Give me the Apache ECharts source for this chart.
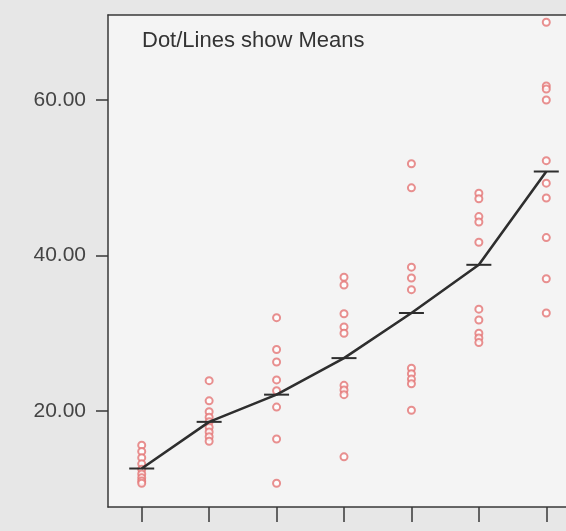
<!DOCTYPE html>
<html>
<head>
<meta charset="utf-8">
<script src="https://cdn.jsdelivr.net/npm/echarts@6/dist/echarts.min.js"></script>
<style>
  html, body { margin: 0; padding: 0; background: #e7e7e7; overflow: hidden; }
  #chart { width: 566px; height: 531px; }
</style>
</head>
<body>
<div id="chart"></div>
<script>
// Seven groups along the x axis; individual observations as open dots,
// group means joined by a line with a short dash at each mean.
const categories = ['1', '2', '3', '4', '5', '6', '7'];

const group1 = [15.6, 14.8, 14.0, 13.2, 12.5, 11.9, 11.4, 11.0, 10.7];
const group2 = [23.9, 21.3, 19.9, 19.2, 18.6, 17.9, 17.3, 16.7, 16.1];
const group3 = [32.0, 27.9, 26.3, 24.0, 22.6, 20.5, 16.4, 10.7];
const group4 = [37.2, 36.2, 32.5, 30.8, 30.0, 23.3, 22.7, 22.1, 14.1];
const group5 = [51.8, 48.7, 38.5, 37.1, 35.6, 25.5, 24.8, 24.1, 23.5, 20.1];
const group6 = [48.0, 47.3, 45.0, 44.3, 41.7, 33.1, 31.7, 30.0, 29.4, 28.8];
const group7 = [70.0, 61.8, 61.4, 60.0, 52.2, 49.3, 47.4, 42.3, 37.0, 32.6];

const groupMeans = [12.6, 18.6, 22.1, 26.8, 32.6, 38.8, 50.8];

const yTicks = [20, 40, 60];

const groups = [group1, group2, group3, group4, group5, group6, group7];
const dotData = [];
groups.forEach((vals, i) => vals.forEach(v => dotData.push([i, v])));

const chartEl = document.getElementById('chart');
const chart = echarts.init(chartEl, null, { renderer: 'canvas' });

const ink = '#383838';
const font = 'Liberation Sans, Arial, sans-serif';
const plot = { left: 108, top: 15, width: 472, height: 492 };
// the panel stops at the visible edge of the page
const panelWidth = Math.min(plot.width, chartEl.clientWidth - plot.left);

chart.setOption({
  animation: false,
  graphic: [
    {
      // lighter panel behind the plotting area
      type: 'rect',
      silent: true,
      z: -10,
      shape: { x: plot.left, y: plot.top, width: panelWidth, height: plot.height },
      style: { fill: '#f4f4f4', stroke: null, lineWidth: 0 }
    },
    {
      type: 'text',
      silent: true,
      x: 142,
      y: 30,
      style: {
        text: 'Dot/Lines show Means',
        font: 'normal 22px ' + font,
        fill: '#333'
      }
    }
  ],
  grid: {
    left: plot.left,
    top: plot.top,
    width: plot.width,
    height: plot.height,
    outerBoundsMode: 'none',
    show: false
  },
  xAxis: [
    {
      type: 'category',
      data: categories,
      boundaryGap: true,
      axisLine: { lineStyle: { color: ink, width: 1.5 } },
      axisTick: { show: true, alignWithLabel: true, length: 15, lineStyle: { color: ink, width: 1.5 } },
      axisLabel: { show: false },
      splitLine: { show: false }
    },
    {
      // frame line along the top of the plot
      type: 'category',
      position: 'top',
      data: categories,
      axisLine: { show: true, lineStyle: { color: ink, width: 1.5 } },
      axisTick: { show: false },
      axisLabel: { show: false },
      splitLine: { show: false }
    }
  ],
  yAxis: {
    type: 'value',
    min: 7.65,
    max: 70.93,
    axisLine: { show: true, lineStyle: { color: ink, width: 1.5 } },
    axisTick: { show: true, length: 12, customValues: yTicks, lineStyle: { color: ink, width: 1.5 } },
    axisLabel: {
      customValues: yTicks,
      margin: 22,
      formatter: v => v.toFixed(2),
      fontFamily: font,
      fontSize: 21,
      color: '#444'
    },
    splitLine: { show: false }
  },
  series: [
    {
      type: 'scatter',
      data: dotData,
      symbol: 'emptyCircle',
      symbolSize: 7,
      itemStyle: { color: '#e37474', borderColor: '#e37474', borderWidth: 1 },
      z: 2
    },
    {
      type: 'line',
      data: groupMeans,
      symbol: 'rect',
      symbolSize: [25, 2],
      showSymbol: true,
      itemStyle: { color: '#2e2e2e' },
      lineStyle: { color: '#2e2e2e', width: 2.6 },
      z: 3
    }
  ]
});
</script>
</body>
</html>
